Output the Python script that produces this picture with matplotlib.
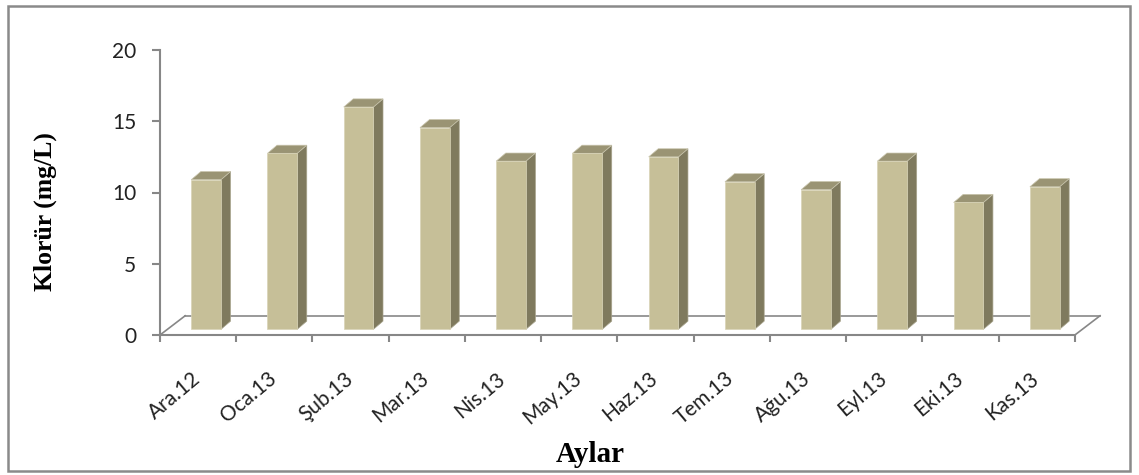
import matplotlib
matplotlib.use("Agg")
import matplotlib.pyplot as plt
from matplotlib.patches import Polygon, Rectangle

# aylık klorür değerleri (mg/L)
aylar = ["Ara.12", "Oca.13", "Şub.13", "Mar.13", "Nis.13", "May.13",
         "Haz.13", "Tem.13", "Ağu.13", "Eyl.13", "Eki.13", "Kas.13"]
klorur = [10.5, 12.35, 15.6, 14.15, 11.8, 12.35, 12.1, 10.35, 9.8, 11.8, 8.9, 10.0]
y_ticks = [0, 5, 10, 15, 20]

on_renk = "#c6bf98"
yan_renk = "#7f7a5e"
ust_renk = "#9a9474"
cizgi = "#878787"

fig = plt.figure(figsize=(11.39, 4.75), dpi=100)
ax = fig.add_axes([160 / 1139, 140 / 475, 953 / 1139, 285 / 475])
ax.set_xlim(0, 12.5)
ax.set_ylim(0, 20)

# zemin (sahte 3B)
zx, zy = 0.33, 1.35
ax.plot([0, zx], [0, zy], color=cizgi, lw=1.2, clip_on=False)
ax.plot([zx, 12 + zx], [zy, zy], color=cizgi, lw=1.2, clip_on=False)
ax.plot([12, 12 + zx], [0, zy], color=cizgi, lw=1.2, clip_on=False)

# sütunlar: ön yüz, yan yüz, üst yüz
taban = 0.4
gen = 0.39
dx, dy = 0.125, 0.57
for i, v in enumerate(klorur):
    x0 = i + 0.41
    x1 = x0 + gen
    ust = taban + v
    ax.add_patch(Polygon([(x1, taban), (x1 + dx, taban + dy), (x1 + dx, ust + dy), (x1, ust)],
                         closed=True, fc=yan_renk, ec="#a9a58e", lw=0.5, zorder=3))
    ax.add_patch(Polygon([(x0, ust), (x1, ust), (x1 + dx, ust + dy), (x0 + dx, ust + dy)],
                         closed=True, fc=ust_renk, ec="#c9c5ad", lw=0.5, zorder=3))
    ax.add_patch(Rectangle((x0, taban), gen, v, fc=on_renk, ec="#d8d3b6", lw=0.5, zorder=4))

for s in ["top", "right"]:
    ax.spines[s].set_visible(False)
ax.spines["left"].set_color(cizgi)
ax.spines["left"].set_linewidth(1.5)
ax.spines["bottom"].set_color(cizgi)
ax.spines["bottom"].set_linewidth(1.5)
ax.spines["bottom"].set_bounds(0, 12)

ax.set_yticks(y_ticks)
ax.set_yticklabels([str(t) for t in y_ticks], fontsize=15, family="Lato", color="#222222")
ax.tick_params(axis="y", length=6, width=1.5, color=cizgi, pad=11)

ax.set_xticks(range(13))
ax.set_xticklabels([])
ax.tick_params(axis="x", which="major", length=5, width=1.5, color=cizgi)
ax.set_xticks([i + 0.58 for i in range(12)], minor=True)
ax.set_xticklabels(aylar, minor=True, rotation=40, ha="right", fontsize=15,
                   family="Lato", color="#222222")
ax.tick_params(axis="x", which="minor", length=0, pad=24)

fig.text(45 / 1139, 1 - 212 / 475, "Klorür (mg/L)", rotation=90, ha="center", va="center",
         fontsize=18.5, fontweight="bold", family="Liberation Serif")
fig.text(590 / 1139, 1 - 455 / 475, "Aylar", ha="center", va="center",
         fontsize=21, fontweight="bold", family="Liberation Serif")

# dış çerçeve
fig.patches.append(Rectangle((8 / 1139, 4 / 475), 1122 / 1139, 465 / 475,
                             transform=fig.transFigure, fill=False, ec="#8a8a8a", lw=1.8))

fig.savefig("out.png", dpi=100)
